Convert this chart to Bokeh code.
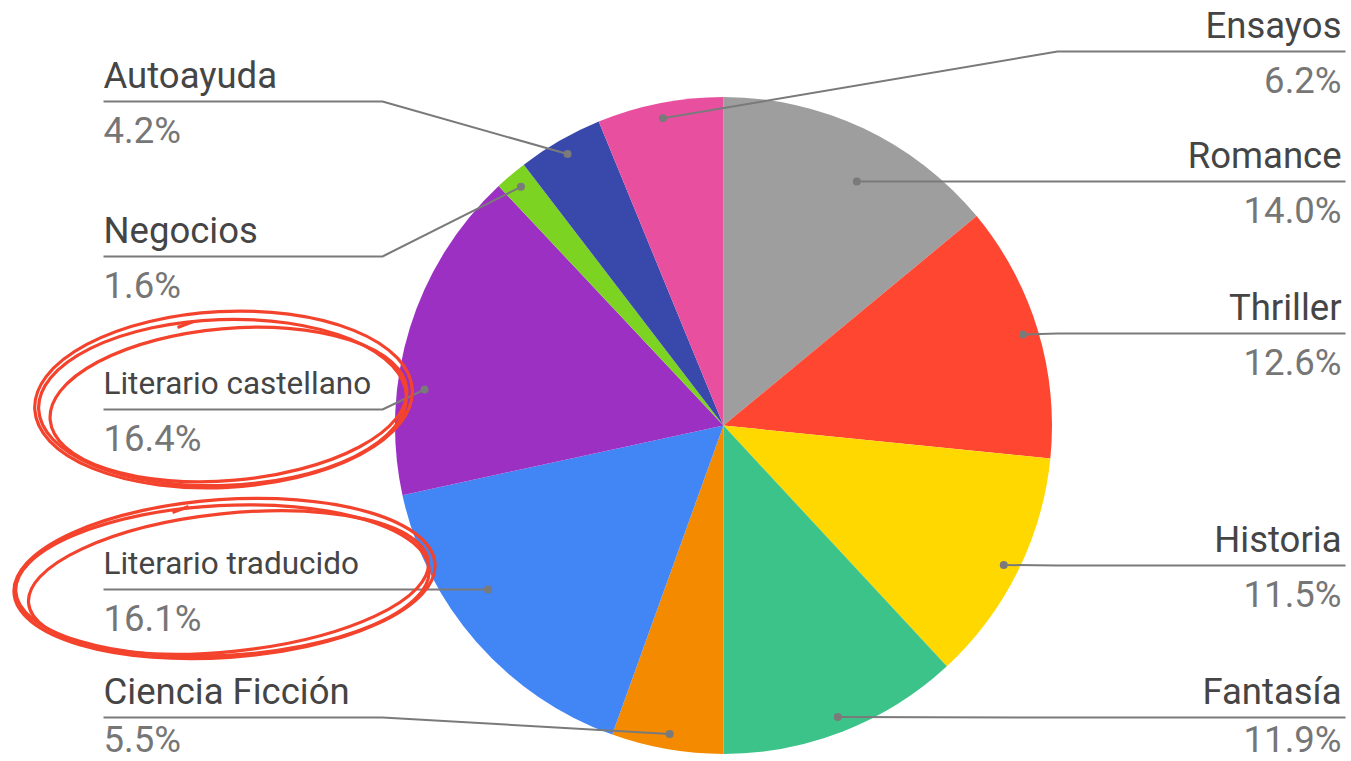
import math
from bokeh.plotting import figure
from bokeh.models import Range1d
from bokeh.core.properties import value
from bokeh.embed import file_html
from bokeh.resources import INLINE

# ---------------- data ----------------
categories = ["Romance", "Thriller", "Historia", "Fantasía", "Ciencia Ficción",
              "Literario traducido", "Literario castellano", "Negocios",
              "Autoayuda", "Ensayos"]
values = [14.0, 12.6, 11.5, 11.9, 5.5, 16.1, 16.4, 1.6, 4.2, 6.2]
colors = ["#9e9e9e", "#fe4631", "#ffd800", "#3cc389", "#f38a00",
          "#4285f4", "#9b30c3", "#7dd321", "#3949ab", "#e94f9f"]
highlighted = ["Literario castellano", "Literario traducido"]

# ---------------- layout (page pixels of the reference) ----------------
label_line_y = [181, 333, 565, 717, 717, 589, 409, 256, 101, 51]
label_side = ["right", "right", "right", "right", "left",
              "left", "left", "left", "left", "right"]
anchor_snap = [0, None, None, None, None, 0, -20, None, None, None]

W, H = 1351, 761
CX, CY, R = 723, 425, 328.5
ANCHOR_R = 0.953 * R
LEFT_TEXT_X, LEFT_ELBOW_X = 103, 382
RIGHT_TEXT_X, RIGHT_ELBOW_X, RIGHT_END_X = 1341, 1057, 1345
NAME_COLOR, PCT_COLOR, LEADER_COLOR = "#454545", "#767676", "#7a7a7a"
RED = "#f4432d"
TEXT_FIX = 12      # svg text sits lower than requested baseline; compensate
MAX_BASELINE = 751  # keep the lowest texts (with descent) inside the canvas


def Y(py):
    return H - py


p = figure(width=W, height=H, x_range=Range1d(0, W), y_range=Range1d(0, H),
           output_backend="svg", toolbar_location=None, min_border=0,
           x_axis_type=None, y_axis_type=None)
p.grid.visible = False
p.outline_line_color = None
p.background_fill_color = "white"
p.border_fill_color = "white"

total = sum(values)
starts, ends, mids = [], [], []
cum = 0.0
for v in values:
    starts.append(cum / total)
    cum += v
    ends.append(cum / total)
    mids.append((starts[-1] + ends[-1]) / 2)

# pie wedges (clockwise from 12 o'clock)
p.wedge(x=[CX] * len(values), y=[Y(CY)] * len(values), radius=R,
        start_angle=[math.pi / 2 - 2 * math.pi * s for s in starts],
        end_angle=[math.pi / 2 - 2 * math.pi * e for e in ends],
        direction="clock", fill_color=colors, line_color=None)

# leader lines, dots and labels
xs, ys, ax, ay = [], [], [], []
for i, cat in enumerate(categories):
    th = 2 * math.pi * mids[i]
    px = CX + ANCHOR_R * math.sin(th)
    py = CY - ANCHOR_R * math.cos(th)
    ly = label_line_y[i]
    if anchor_snap[i] is not None:
        py = ly + anchor_snap[i]
    ax.append(px)
    ay.append(Y(py))
    if label_side[i] == "right":
        xs.append([px, max(px, RIGHT_ELBOW_X), RIGHT_END_X])
        ys.append([Y(py), Y(ly), Y(ly)])
        tx, align = RIGHT_TEXT_X, "right"
    else:
        xs.append([px, LEFT_ELBOW_X, LEFT_TEXT_X])
        ys.append([Y(py), Y(ly), Y(ly)])
        tx, align = LEFT_TEXT_X, "left"
    size = "31.5px" if cat in highlighted else "36.5px"
    p.text(x=[tx], y=[Y(ly - 14 - TEXT_FIX)], text=[cat], text_font=value("Roboto"),
           text_font_size=size, text_color=NAME_COLOR, text_align=align,
           text_baseline="alphabetic")
    pb = min(ly + 41, MAX_BASELINE)
    p.text(x=[tx], y=[Y(pb - TEXT_FIX)], text=[f"{values[i]:.1f}%"],
           text_font=value("Roboto"), text_font_size="36.5px", text_color=PCT_COLOR,
           text_align=align, text_baseline="alphabetic")

p.multi_line(xs=xs, ys=ys, line_color=LEADER_COLOR, line_width=2)
p.scatter(x=ax, y=ay, size=8, fill_color=LEADER_COLOR, line_color=None)

# hand-drawn red loops around the highlighted labels
loops = {
    "Literario castellano": [(223, 399, 378, 176, 3), (228, 404, 358, 152, 5), (222, 402, 368, 166, 2)],
    "Literario traducido": [(224, 578, 422, 158, 4), (228, 582, 402, 138, 6), (222, 580, 414, 150, 3)],
}
ticks = {
    "Literario castellano": ([177, 193], [327, 321]),
    "Literario traducido": ([172, 188], [512, 506]),
}
for cat in highlighted:
    for (ex, ey, ew, eh, ea) in loops[cat]:
        p.ellipse(x=[ex], y=[Y(ey)], width=ew, height=eh, angle=ea, angle_units="deg",
                  fill_color=None, line_color=RED, line_width=3.2)
    tx_, ty_ = ticks[cat]
    p.line(x=tx_, y=[Y(v) for v in ty_], line_color=RED, line_width=3.2)

open("out.html", "w").write(file_html(p, INLINE))
